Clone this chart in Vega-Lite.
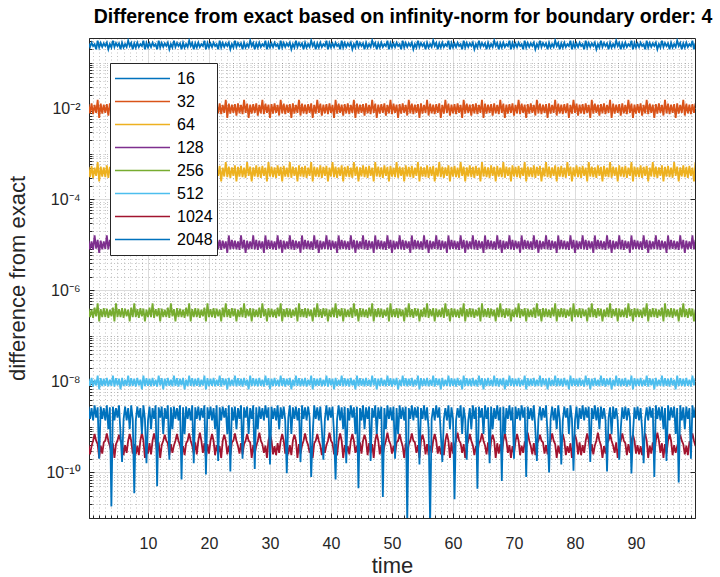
{
  "$schema": "https://vega.github.io/schema/vega-lite/v6.json",
  "width": 606,
  "height": 480,
  "autosize": {"type": "none"},
  "padding": {"left": 89, "top": 38, "right": 25, "bottom": 59},
  "background": "#ffffff",
  "title": {
    "text": "Difference from exact based on infinity-norm for boundary order: 4",
    "font": "Liberation Sans",
    "fontSize": 19.5,
    "fontWeight": "bold",
    "color": "#000000",
    "anchor": "middle",
    "dx": 11,
    "offset": 10
  },
  "config": {
    "view": {"stroke": "#262626", "strokeWidth": 1},
    "axis": {"labelFont": "Liberation Sans", "titleFont": "Liberation Sans"}
  },
  "datasets": {
    "err": [
{"t":0.25,"16":0.27,"32":125e-4,"64":52e-5,"128":125e-7,"256":4e-7,"512":115e-10,"1024":4e-10,"2048":28e-10},
{"t":0.5,"16":0.225,"32":78e-4,"64":31e-5,"128":8e-6,"256":26e-8,"512":8e-9,"1024":25e-11,"2048":15e-10},
{"t":0.75,"16":0.28,"32":13e-3,"64":55e-5,"128":12e-6,"256":38e-8,"512":12e-9,"1024":38e-11,"2048":26e-10},
{"t":1,"16":0.235,"32":75e-4,"64":3e-4,"128":78e-7,"256":25e-8,"512":77e-10,"1024":5e-10,"2048":14e-10},
{"t":1.25,"16":0.26,"32":12e-3,"64":5e-4,"128":162e-7,"256":42e-8,"512":11e-9,"1024":7e-10,"2048":3e-9},
{"t":1.5,"16":0.2,"32":8e-3,"64":33e-5,"128":83e-7,"256":27e-8,"512":82e-10,"1024":5e-10,"2048":16e-10},
{"t":1.75,"16":0.31,"32":155e-4,"64":66e-5,"128":13e-6,"256":52e-8,"512":135e-10,"1024":42e-11,"2048":27e-10},
{"t":2,"16":0.22,"32":62e-4,"64":25e-5,"128":67e-7,"256":21e-8,"512":67e-10,"1024":21e-11,"2048":2e-10},
{"t":2.25,"16":0.275,"32":128e-4,"64":53e-5,"128":125e-7,"256":39e-8,"512":118e-10,"1024":39e-11,"2048":28e-10},
{"t":2.5,"16":0.225,"32":77e-4,"64":32e-5,"128":8e-6,"256":26e-8,"512":79e-10,"1024":26e-11,"2048":15e-10},
{"t":2.75,"16":0.27,"32":122e-4,"64":51e-5,"128":12e-6,"256":41e-8,"512":115e-10,"1024":46e-11,"2048":26e-10},
{"t":3,"16":0.235,"32":8e-3,"64":31e-5,"128":82e-7,"256":26e-8,"512":8e-9,"1024":5e-10,"2048":14e-10},
{"t":3.25,"16":0.28,"32":125e-4,"64":56e-5,"128":162e-7,"256":4e-7,"512":12e-9,"1024":72e-11,"2048":3e-9},
{"t":3.5,"16":0.2,"32":7e-3,"64":3e-4,"128":8e-6,"256":25e-8,"512":78e-10,"1024":5e-10,"2048":9e-10},
{"t":3.75,"16":0.26,"32":13e-3,"64":52e-5,"128":13e-6,"256":38e-8,"512":11e-9,"1024":38e-11,"2048":27e-10},
{"t":4,"16":0.22,"32":78e-4,"64":33e-5,"128":78e-7,"256":27e-8,"512":8e-9,"1024":27e-11,"2048":18e-12},
{"t":4.25,"16":0.31,"32":12e-3,"64":55e-5,"128":125e-7,"256":42e-8,"512":135e-10,"1024":44e-11,"2048":28e-10},
{"t":4.5,"16":0.225,"32":75e-4,"64":25e-5,"128":83e-7,"256":21e-8,"512":77e-10,"1024":21e-11,"2048":14e-10},
{"t":4.75,"16":0.275,"32":155e-4,"64":5e-4,"128":12e-6,"256":52e-8,"512":118e-10,"1024":42e-11,"2048":26e-10},
{"t":5,"16":0.235,"32":8e-3,"64":32e-5,"128":67e-7,"256":26e-8,"512":82e-10,"1024":5e-10,"2048":16e-10},
{"t":5.25,"16":0.27,"32":128e-4,"64":66e-5,"128":162e-7,"256":39e-8,"512":115e-10,"1024":68e-11,"2048":3e-9},
{"t":5.5,"16":0.2,"32":62e-4,"64":31e-5,"128":8e-6,"256":26e-8,"512":67e-10,"1024":5e-10,"2048":7e-10},
{"t":5.75,"16":0.28,"32":122e-4,"64":53e-5,"128":13e-6,"256":41e-8,"512":12e-9,"1024":46e-11,"2048":17e-11},
{"t":6,"16":0.22,"32":77e-4,"64":3e-4,"128":82e-7,"256":25e-8,"512":79e-10,"1024":24e-11,"2048":15e-10},
{"t":6.25,"16":0.26,"32":125e-4,"64":51e-5,"128":125e-7,"256":4e-7,"512":11e-9,"1024":4e-10,"2048":28e-10},
{"t":6.5,"16":0.225,"32":8e-3,"64":33e-5,"128":8e-6,"256":27e-8,"512":8e-9,"1024":27e-11,"2048":14e-10},
{"t":6.75,"16":0.31,"32":13e-3,"64":56e-5,"128":12e-6,"256":38e-8,"512":135e-10,"1024":5e-10,"2048":26e-10},
{"t":7,"16":0.235,"32":7e-3,"64":25e-5,"128":78e-7,"256":21e-8,"512":78e-10,"1024":7e-10,"2048":9e-10},
{"t":7.25,"16":0.275,"32":12e-3,"64":52e-5,"128":162e-7,"256":42e-8,"512":118e-10,"1024":5e-10,"2048":3e-9},
{"t":7.5,"16":0.2,"32":78e-4,"64":32e-5,"128":83e-7,"256":26e-8,"512":8e-9,"1024":26e-11,"2048":15e-10},
{"t":7.75,"16":0.27,"32":155e-4,"64":55e-5,"128":13e-6,"256":52e-8,"512":115e-10,"1024":42e-11,"2048":35e-12},
{"t":8,"16":0.22,"32":75e-4,"64":31e-5,"128":67e-7,"256":26e-8,"512":77e-10,"1024":25e-11,"2048":14e-10},
{"t":8.25,"16":0.28,"32":128e-4,"64":5e-4,"128":125e-7,"256":39e-8,"512":12e-9,"1024":39e-11,"2048":28e-10},
{"t":8.5,"16":0.225,"32":8e-3,"64":3e-4,"128":8e-6,"256":25e-8,"512":82e-10,"1024":24e-11,"2048":16e-10},
{"t":8.75,"16":0.26,"32":122e-4,"64":66e-5,"128":12e-6,"256":41e-8,"512":11e-9,"1024":5e-10,"2048":26e-10},
{"t":9,"16":0.235,"32":62e-4,"64":33e-5,"128":82e-7,"256":27e-8,"512":67e-10,"1024":75e-11,"2048":7e-10},
{"t":9.25,"16":0.31,"32":125e-4,"64":53e-5,"128":162e-7,"256":4e-7,"512":135e-10,"1024":5e-10,"2048":3e-9},
{"t":9.5,"16":0.2,"32":77e-4,"64":25e-5,"128":8e-6,"256":21e-8,"512":79e-10,"1024":21e-11,"2048":15e-10},
{"t":9.75,"16":0.275,"32":13e-3,"64":51e-5,"128":13e-6,"256":38e-8,"512":118e-10,"1024":38e-11,"2048":16e-11},
{"t":10,"16":0.22,"32":8e-3,"64":32e-5,"128":78e-7,"256":26e-8,"512":8e-9,"1024":26e-11,"2048":14e-10},
{"t":10.25,"16":0.27,"32":12e-3,"64":56e-5,"128":125e-7,"256":42e-8,"512":115e-10,"1024":44e-11,"2048":28e-10},
{"t":10.5,"16":0.225,"32":7e-3,"64":31e-5,"128":83e-7,"256":26e-8,"512":78e-10,"1024":25e-11,"2048":9e-10},
{"t":10.75,"16":0.28,"32":155e-4,"64":52e-5,"128":12e-6,"256":52e-8,"512":12e-9,"1024":5e-10,"2048":26e-10},
{"t":11,"16":0.235,"32":78e-4,"64":3e-4,"128":67e-7,"256":25e-8,"512":8e-9,"1024":72e-11,"2048":15e-10},
{"t":11.25,"16":0.26,"32":128e-4,"64":55e-5,"128":162e-7,"256":39e-8,"512":11e-9,"1024":5e-10,"2048":3e-9},
{"t":11.5,"16":0.2,"32":75e-4,"64":33e-5,"128":8e-6,"256":27e-8,"512":77e-10,"1024":27e-11,"2048":5e-11},
{"t":11.75,"16":0.31,"32":122e-4,"64":5e-4,"128":13e-6,"256":41e-8,"512":135e-10,"1024":46e-11,"2048":27e-10},
{"t":12,"16":0.22,"32":8e-3,"64":25e-5,"128":82e-7,"256":21e-8,"512":82e-10,"1024":21e-11,"2048":16e-10},
{"t":12.25,"16":0.275,"32":125e-4,"64":66e-5,"128":125e-7,"256":4e-7,"512":118e-10,"1024":4e-10,"2048":28e-10},
{"t":12.5,"16":0.225,"32":62e-4,"64":32e-5,"128":8e-6,"256":26e-8,"512":67e-10,"1024":5e-10,"2048":7e-10},
{"t":12.75,"16":0.27,"32":13e-3,"64":53e-5,"128":12e-6,"256":38e-8,"512":115e-10,"1024":68e-11,"2048":26e-10},
{"t":13,"16":0.235,"32":77e-4,"64":31e-5,"128":78e-7,"256":26e-8,"512":79e-10,"1024":5e-10,"2048":15e-10},
{"t":13.25,"16":0.28,"32":12e-3,"64":51e-5,"128":162e-7,"256":42e-8,"512":12e-9,"1024":44e-11,"2048":3e-9},
{"t":13.5,"16":0.2,"32":8e-3,"64":3e-4,"128":83e-7,"256":25e-8,"512":8e-9,"1024":24e-11,"2048":19e-11},
{"t":13.75,"16":0.26,"32":155e-4,"64":56e-5,"128":13e-6,"256":52e-8,"512":11e-9,"1024":42e-11,"2048":27e-10},
{"t":14,"16":0.22,"32":7e-3,"64":33e-5,"128":67e-7,"256":27e-8,"512":78e-10,"1024":27e-11,"2048":9e-10},
{"t":14.25,"16":0.31,"32":128e-4,"64":52e-5,"128":125e-7,"256":39e-8,"512":135e-10,"1024":39e-11,"2048":28e-10},
{"t":14.5,"16":0.225,"32":78e-4,"64":25e-5,"128":8e-6,"256":21e-8,"512":8e-9,"1024":5e-10,"2048":15e-10},
{"t":14.75,"16":0.275,"32":122e-4,"64":55e-5,"128":12e-6,"256":41e-8,"512":118e-10,"1024":7e-10,"2048":26e-10},
{"t":15,"16":0.235,"32":75e-4,"64":32e-5,"128":82e-7,"256":26e-8,"512":77e-10,"1024":5e-10,"2048":14e-10},
{"t":15.25,"16":0.27,"32":125e-4,"64":5e-4,"128":162e-7,"256":4e-7,"512":115e-10,"1024":4e-10,"2048":3e-9},
{"t":15.5,"16":0.2,"32":8e-3,"64":31e-5,"128":8e-6,"256":26e-8,"512":82e-10,"1024":25e-11,"2048":7e-11},
{"t":15.75,"16":0.28,"32":13e-3,"64":66e-5,"128":13e-6,"256":38e-8,"512":12e-9,"1024":38e-11,"2048":27e-10},
{"t":16,"16":0.22,"32":62e-4,"64":3e-4,"128":78e-7,"256":25e-8,"512":67e-10,"1024":24e-11,"2048":7e-10},
{"t":16.25,"16":0.26,"32":12e-3,"64":53e-5,"128":125e-7,"256":42e-8,"512":11e-9,"1024":44e-11,"2048":28e-10},
{"t":16.5,"16":0.225,"32":77e-4,"64":33e-5,"128":83e-7,"256":27e-8,"512":79e-10,"1024":5e-10,"2048":15e-10},
{"t":16.75,"16":0.31,"32":155e-4,"64":51e-5,"128":12e-6,"256":52e-8,"512":135e-10,"1024":72e-11,"2048":26e-10},
{"t":17,"16":0.235,"32":8e-3,"64":25e-5,"128":67e-7,"256":21e-8,"512":8e-9,"1024":5e-10,"2048":14e-10},
{"t":17.25,"16":0.275,"32":128e-4,"64":56e-5,"128":162e-7,"256":39e-8,"512":118e-10,"1024":39e-11,"2048":3e-9},
{"t":17.5,"16":0.2,"32":7e-3,"64":32e-5,"128":8e-6,"256":26e-8,"512":78e-10,"1024":26e-11,"2048":16e-11},
{"t":17.75,"16":0.27,"32":122e-4,"64":52e-5,"128":13e-6,"256":41e-8,"512":115e-10,"1024":46e-11,"2048":27e-10},
{"t":18,"16":0.22,"32":78e-4,"64":31e-5,"128":82e-7,"256":26e-8,"512":8e-9,"1024":25e-11,"2048":15e-10},
{"t":18.25,"16":0.28,"32":125e-4,"64":55e-5,"128":125e-7,"256":4e-7,"512":12e-9,"1024":5e-10,"2048":28e-10},
{"t":18.5,"16":0.225,"32":75e-4,"64":3e-4,"128":8e-6,"256":25e-8,"512":77e-10,"1024":75e-11,"2048":14e-10},
{"t":18.75,"16":0.26,"32":13e-3,"64":5e-4,"128":12e-6,"256":38e-8,"512":11e-9,"1024":5e-10,"2048":26e-10},
{"t":19,"16":0.235,"32":8e-3,"64":33e-5,"128":78e-7,"256":27e-8,"512":82e-10,"1024":27e-11,"2048":16e-10},
{"t":19.25,"16":0.31,"32":12e-3,"64":66e-5,"128":162e-7,"256":42e-8,"512":135e-10,"1024":44e-11,"2048":3e-9},
{"t":19.5,"16":0.2,"32":62e-4,"64":25e-5,"128":83e-7,"256":21e-8,"512":67e-10,"1024":21e-11,"2048":9e-11},
{"t":19.75,"16":0.275,"32":155e-4,"64":53e-5,"128":13e-6,"256":52e-8,"512":118e-10,"1024":42e-11,"2048":27e-10},
{"t":20,"16":0.22,"32":77e-4,"64":32e-5,"128":67e-7,"256":26e-8,"512":79e-10,"1024":26e-11,"2048":15e-10},
{"t":20.25,"16":0.27,"32":128e-4,"64":51e-5,"128":125e-7,"256":39e-8,"512":115e-10,"1024":5e-10,"2048":28e-10},
{"t":20.5,"16":0.225,"32":8e-3,"64":31e-5,"128":8e-6,"256":26e-8,"512":8e-9,"1024":7e-10,"2048":14e-10},
{"t":20.75,"16":0.28,"32":122e-4,"64":56e-5,"128":12e-6,"256":41e-8,"512":12e-9,"1024":5e-10,"2048":26e-10},
{"t":21,"16":0.235,"32":7e-3,"64":3e-4,"128":82e-7,"256":25e-8,"512":78e-10,"1024":24e-11,"2048":9e-10},
{"t":21.25,"16":0.26,"32":125e-4,"64":52e-5,"128":162e-7,"256":4e-7,"512":11e-9,"1024":4e-10,"2048":3e-9},
{"t":21.5,"16":0.2,"32":78e-4,"64":33e-5,"128":8e-6,"256":27e-8,"512":8e-9,"1024":27e-11,"2048":18e-11},
{"t":21.75,"16":0.31,"32":13e-3,"64":55e-5,"128":13e-6,"256":38e-8,"512":135e-10,"1024":38e-11,"2048":27e-10},
{"t":22,"16":0.22,"32":75e-4,"64":25e-5,"128":78e-7,"256":21e-8,"512":77e-10,"1024":21e-11,"2048":14e-10},
{"t":22.25,"16":0.275,"32":12e-3,"64":5e-4,"128":125e-7,"256":42e-8,"512":118e-10,"1024":5e-10,"2048":28e-10},
{"t":22.5,"16":0.225,"32":8e-3,"64":32e-5,"128":83e-7,"256":26e-8,"512":82e-10,"1024":68e-11,"2048":16e-10},
{"t":22.75,"16":0.27,"32":155e-4,"64":66e-5,"128":12e-6,"256":52e-8,"512":115e-10,"1024":5e-10,"2048":26e-10},
{"t":23,"16":0.235,"32":62e-4,"64":31e-5,"128":67e-7,"256":26e-8,"512":67e-10,"1024":25e-11,"2048":7e-10},
{"t":23.25,"16":0.28,"32":128e-4,"64":53e-5,"128":162e-7,"256":39e-8,"512":12e-9,"1024":39e-11,"2048":3e-9},
{"t":23.5,"16":0.2,"32":77e-4,"64":3e-4,"128":8e-6,"256":25e-8,"512":79e-10,"1024":24e-11,"2048":105e-12},
{"t":23.75,"16":0.26,"32":122e-4,"64":51e-5,"128":13e-6,"256":41e-8,"512":11e-9,"1024":46e-11,"2048":27e-10},
{"t":24,"16":0.22,"32":8e-3,"64":33e-5,"128":82e-7,"256":27e-8,"512":8e-9,"1024":5e-10,"2048":14e-10},
{"t":24.25,"16":0.31,"32":125e-4,"64":56e-5,"128":125e-7,"256":4e-7,"512":135e-10,"1024":72e-11,"2048":28e-10},
{"t":24.5,"16":0.225,"32":7e-3,"64":25e-5,"128":8e-6,"256":21e-8,"512":78e-10,"1024":5e-10,"2048":9e-10},
{"t":24.75,"16":0.275,"32":13e-3,"64":52e-5,"128":12e-6,"256":38e-8,"512":118e-10,"1024":38e-11,"2048":26e-10},
{"t":25,"16":0.235,"32":78e-4,"64":32e-5,"128":78e-7,"256":26e-8,"512":8e-9,"1024":26e-11,"2048":15e-10},
{"t":25.25,"16":0.27,"32":12e-3,"64":55e-5,"128":162e-7,"256":42e-8,"512":115e-10,"1024":44e-11,"2048":3e-9},
{"t":25.5,"16":0.2,"32":75e-4,"64":31e-5,"128":83e-7,"256":26e-8,"512":77e-10,"1024":25e-11,"2048":2e-10},
{"t":25.75,"16":0.28,"32":155e-4,"64":5e-4,"128":13e-6,"256":52e-8,"512":12e-9,"1024":42e-11,"2048":27e-10},
{"t":26,"16":0.22,"32":8e-3,"64":3e-4,"128":67e-7,"256":25e-8,"512":82e-10,"1024":5e-10,"2048":16e-10},
{"t":26.25,"16":0.26,"32":128e-4,"64":66e-5,"128":125e-7,"256":39e-8,"512":11e-9,"1024":7e-10,"2048":28e-10},
{"t":26.5,"16":0.225,"32":62e-4,"64":33e-5,"128":8e-6,"256":27e-8,"512":67e-10,"1024":5e-10,"2048":7e-10},
{"t":26.75,"16":0.31,"32":122e-4,"64":53e-5,"128":12e-6,"256":41e-8,"512":135e-10,"1024":46e-11,"2048":26e-10},
{"t":27,"16":0.235,"32":77e-4,"64":25e-5,"128":82e-7,"256":21e-8,"512":79e-10,"1024":21e-11,"2048":15e-10},
{"t":27.25,"16":0.275,"32":125e-4,"64":51e-5,"128":162e-7,"256":4e-7,"512":118e-10,"1024":4e-10,"2048":3e-9},
{"t":27.5,"16":0.2,"32":8e-3,"64":32e-5,"128":8e-6,"256":26e-8,"512":8e-9,"1024":26e-11,"2048":12e-11},
{"t":27.75,"16":0.27,"32":13e-3,"64":56e-5,"128":13e-6,"256":38e-8,"512":115e-10,"1024":38e-11,"2048":27e-10},
{"t":28,"16":0.22,"32":7e-3,"64":31e-5,"128":78e-7,"256":26e-8,"512":78e-10,"1024":5e-10,"2048":9e-10},
{"t":28.25,"16":0.28,"32":12e-3,"64":52e-5,"128":125e-7,"256":42e-8,"512":12e-9,"1024":75e-11,"2048":28e-10},
{"t":28.5,"16":0.225,"32":78e-4,"64":3e-4,"128":83e-7,"256":25e-8,"512":8e-9,"1024":5e-10,"2048":15e-10},
{"t":28.75,"16":0.26,"32":155e-4,"64":55e-5,"128":12e-6,"256":52e-8,"512":11e-9,"1024":42e-11,"2048":26e-10},
{"t":29,"16":0.235,"32":75e-4,"64":33e-5,"128":67e-7,"256":27e-8,"512":77e-10,"1024":27e-11,"2048":14e-10},
{"t":29.25,"16":0.31,"32":128e-4,"64":5e-4,"128":162e-7,"256":39e-8,"512":135e-10,"1024":39e-11,"2048":3e-9},
{"t":29.5,"16":0.2,"32":8e-3,"64":25e-5,"128":8e-6,"256":21e-8,"512":82e-10,"1024":21e-11,"2048":16e-10},
{"t":29.75,"16":0.275,"32":122e-4,"64":66e-5,"128":13e-6,"256":41e-8,"512":118e-10,"1024":5e-10,"2048":27e-10},
{"t":30,"16":0.22,"32":62e-4,"64":32e-5,"128":82e-7,"256":26e-8,"512":67e-10,"1024":72e-11,"2048":15e-11},
{"t":30.25,"16":0.27,"32":125e-4,"64":53e-5,"128":125e-7,"256":4e-7,"512":115e-10,"1024":5e-10,"2048":28e-10},
{"t":30.5,"16":0.225,"32":77e-4,"64":31e-5,"128":8e-6,"256":26e-8,"512":79e-10,"1024":25e-11,"2048":15e-10},
{"t":30.75,"16":0.28,"32":13e-3,"64":51e-5,"128":12e-6,"256":38e-8,"512":12e-9,"1024":38e-11,"2048":26e-10},
{"t":31,"16":0.235,"32":8e-3,"64":3e-4,"128":78e-7,"256":25e-8,"512":8e-9,"1024":24e-11,"2048":14e-10},
{"t":31.25,"16":0.26,"32":12e-3,"64":56e-5,"128":162e-7,"256":42e-8,"512":11e-9,"1024":44e-11,"2048":3e-9},
{"t":31.5,"16":0.2,"32":7e-3,"64":33e-5,"128":83e-7,"256":27e-8,"512":78e-10,"1024":27e-11,"2048":9e-10},
{"t":31.75,"16":0.31,"32":155e-4,"64":52e-5,"128":13e-6,"256":52e-8,"512":135e-10,"1024":5e-10,"2048":27e-10},
{"t":32,"16":0.22,"32":78e-4,"64":25e-5,"128":67e-7,"256":21e-8,"512":8e-9,"1024":7e-10,"2048":15e-10},
{"t":32.25,"16":0.275,"32":128e-4,"64":55e-5,"128":125e-7,"256":39e-8,"512":118e-10,"1024":5e-10,"2048":28e-10},
{"t":32.5,"16":0.225,"32":75e-4,"64":32e-5,"128":8e-6,"256":26e-8,"512":77e-10,"1024":26e-11,"2048":14e-10},
{"t":32.75,"16":0.27,"32":122e-4,"64":5e-4,"128":12e-6,"256":41e-8,"512":115e-10,"1024":46e-11,"2048":96e-12},
{"t":33,"16":0.235,"32":8e-3,"64":31e-5,"128":82e-7,"256":26e-8,"512":82e-10,"1024":25e-11,"2048":16e-10},
{"t":33.25,"16":0.28,"32":125e-4,"64":66e-5,"128":162e-7,"256":4e-7,"512":12e-9,"1024":4e-10,"2048":3e-9},
{"t":33.5,"16":0.2,"32":62e-4,"64":3e-4,"128":8e-6,"256":25e-8,"512":67e-10,"1024":24e-11,"2048":7e-10},
{"t":33.75,"16":0.26,"32":13e-3,"64":53e-5,"128":13e-6,"256":38e-8,"512":11e-9,"1024":5e-10,"2048":27e-10},
{"t":34,"16":0.22,"32":77e-4,"64":33e-5,"128":78e-7,"256":27e-8,"512":79e-10,"1024":68e-11,"2048":15e-10},
{"t":34.25,"16":0.31,"32":12e-3,"64":51e-5,"128":125e-7,"256":42e-8,"512":135e-10,"1024":5e-10,"2048":28e-10},
{"t":34.5,"16":0.225,"32":8e-3,"64":25e-5,"128":83e-7,"256":21e-8,"512":8e-9,"1024":21e-11,"2048":14e-10},
{"t":34.75,"16":0.275,"32":155e-4,"64":56e-5,"128":12e-6,"256":52e-8,"512":118e-10,"1024":42e-11,"2048":26e-10},
{"t":35,"16":0.235,"32":7e-3,"64":32e-5,"128":67e-7,"256":26e-8,"512":78e-10,"1024":26e-11,"2048":17e-11},
{"t":35.25,"16":0.27,"32":128e-4,"64":52e-5,"128":162e-7,"256":39e-8,"512":115e-10,"1024":39e-11,"2048":3e-9},
{"t":35.5,"16":0.2,"32":78e-4,"64":31e-5,"128":8e-6,"256":26e-8,"512":8e-9,"1024":5e-10,"2048":15e-10},
{"t":35.75,"16":0.28,"32":122e-4,"64":55e-5,"128":13e-6,"256":41e-8,"512":12e-9,"1024":72e-11,"2048":27e-10},
{"t":36,"16":0.22,"32":75e-4,"64":3e-4,"128":82e-7,"256":25e-8,"512":77e-10,"1024":5e-10,"2048":14e-10},
{"t":36.25,"16":0.26,"32":125e-4,"64":5e-4,"128":125e-7,"256":4e-7,"512":11e-9,"1024":4e-10,"2048":28e-10},
{"t":36.5,"16":0.225,"32":8e-3,"64":33e-5,"128":8e-6,"256":27e-8,"512":82e-10,"1024":27e-11,"2048":16e-10},
{"t":36.75,"16":0.31,"32":13e-3,"64":66e-5,"128":12e-6,"256":38e-8,"512":135e-10,"1024":38e-11,"2048":8e-11},
{"t":37,"16":0.235,"32":62e-4,"64":25e-5,"128":78e-7,"256":21e-8,"512":67e-10,"1024":21e-11,"2048":7e-10},
{"t":37.25,"16":0.275,"32":12e-3,"64":53e-5,"128":162e-7,"256":42e-8,"512":118e-10,"1024":44e-11,"2048":3e-9},
{"t":37.5,"16":0.2,"32":77e-4,"64":32e-5,"128":83e-7,"256":26e-8,"512":79e-10,"1024":5e-10,"2048":15e-10},
{"t":37.75,"16":0.27,"32":155e-4,"64":51e-5,"128":13e-6,"256":52e-8,"512":115e-10,"1024":7e-10,"2048":27e-10},
{"t":38,"16":0.22,"32":8e-3,"64":31e-5,"128":67e-7,"256":26e-8,"512":8e-9,"1024":5e-10,"2048":14e-10},
{"t":38.25,"16":0.28,"32":128e-4,"64":56e-5,"128":125e-7,"256":39e-8,"512":12e-9,"1024":39e-11,"2048":28e-10},
{"t":38.5,"16":0.225,"32":7e-3,"64":3e-4,"128":8e-6,"256":25e-8,"512":78e-10,"1024":24e-11,"2048":9e-10},
{"t":38.75,"16":0.26,"32":122e-4,"64":52e-5,"128":12e-6,"256":41e-8,"512":11e-9,"1024":46e-11,"2048":19e-11},
{"t":39,"16":0.235,"32":78e-4,"64":33e-5,"128":82e-7,"256":27e-8,"512":8e-9,"1024":27e-11,"2048":15e-10},
{"t":39.25,"16":0.31,"32":125e-4,"64":55e-5,"128":162e-7,"256":4e-7,"512":135e-10,"1024":4e-10,"2048":3e-9},
{"t":39.5,"16":0.2,"32":75e-4,"64":25e-5,"128":8e-6,"256":21e-8,"512":77e-10,"1024":5e-10,"2048":14e-10},
{"t":39.75,"16":0.275,"32":13e-3,"64":5e-4,"128":13e-6,"256":38e-8,"512":118e-10,"1024":75e-11,"2048":27e-10},
{"t":40,"16":0.22,"32":8e-3,"64":32e-5,"128":78e-7,"256":26e-8,"512":82e-10,"1024":5e-10,"2048":16e-10},
{"t":40.25,"16":0.27,"32":12e-3,"64":66e-5,"128":125e-7,"256":42e-8,"512":115e-10,"1024":44e-11,"2048":28e-10},
{"t":40.5,"16":0.225,"32":62e-4,"64":31e-5,"128":83e-7,"256":26e-8,"512":67e-10,"1024":25e-11,"2048":7e-10},
{"t":40.75,"16":0.28,"32":155e-4,"64":53e-5,"128":12e-6,"256":52e-8,"512":12e-9,"1024":42e-11,"2048":7e-11},
{"t":41,"16":0.235,"32":77e-4,"64":3e-4,"128":67e-7,"256":25e-8,"512":79e-10,"1024":24e-11,"2048":15e-10},
{"t":41.25,"16":0.26,"32":128e-4,"64":51e-5,"128":162e-7,"256":39e-8,"512":11e-9,"1024":5e-10,"2048":3e-9},
{"t":41.5,"16":0.2,"32":8e-3,"64":33e-5,"128":8e-6,"256":27e-8,"512":8e-9,"1024":72e-11,"2048":14e-10},
{"t":41.75,"16":0.31,"32":122e-4,"64":56e-5,"128":13e-6,"256":41e-8,"512":135e-10,"1024":5e-10,"2048":27e-10},
{"t":42,"16":0.22,"32":7e-3,"64":25e-5,"128":82e-7,"256":21e-8,"512":78e-10,"1024":21e-11,"2048":9e-10},
{"t":42.25,"16":0.275,"32":125e-4,"64":52e-5,"128":125e-7,"256":4e-7,"512":118e-10,"1024":4e-10,"2048":28e-10},
{"t":42.5,"16":0.225,"32":78e-4,"64":32e-5,"128":8e-6,"256":26e-8,"512":8e-9,"1024":26e-11,"2048":16e-11},
{"t":42.75,"16":0.27,"32":13e-3,"64":55e-5,"128":12e-6,"256":38e-8,"512":115e-10,"1024":38e-11,"2048":26e-10},
{"t":43,"16":0.235,"32":75e-4,"64":31e-5,"128":78e-7,"256":26e-8,"512":77e-10,"1024":25e-11,"2048":14e-10},
{"t":43.25,"16":0.28,"32":12e-3,"64":5e-4,"128":162e-7,"256":42e-8,"512":12e-9,"1024":5e-10,"2048":3e-9},
{"t":43.5,"16":0.2,"32":8e-3,"64":3e-4,"128":83e-7,"256":25e-8,"512":82e-10,"1024":7e-10,"2048":16e-10},
{"t":43.75,"16":0.26,"32":155e-4,"64":66e-5,"128":13e-6,"256":52e-8,"512":11e-9,"1024":5e-10,"2048":27e-10},
{"t":44,"16":0.22,"32":62e-4,"64":33e-5,"128":67e-7,"256":27e-8,"512":67e-10,"1024":27e-11,"2048":7e-10},
{"t":44.25,"16":0.31,"32":128e-4,"64":53e-5,"128":125e-7,"256":39e-8,"512":135e-10,"1024":39e-11,"2048":28e-10},
{"t":44.5,"16":0.225,"32":77e-4,"64":25e-5,"128":8e-6,"256":21e-8,"512":79e-10,"1024":21e-11,"2048":45e-12},
{"t":44.75,"16":0.275,"32":122e-4,"64":51e-5,"128":12e-6,"256":41e-8,"512":118e-10,"1024":46e-11,"2048":26e-10},
{"t":45,"16":0.235,"32":8e-3,"64":32e-5,"128":82e-7,"256":26e-8,"512":8e-9,"1024":26e-11,"2048":14e-10},
{"t":45.25,"16":0.27,"32":125e-4,"64":56e-5,"128":162e-7,"256":4e-7,"512":115e-10,"1024":5e-10,"2048":3e-9},
{"t":45.5,"16":0.2,"32":7e-3,"64":31e-5,"128":8e-6,"256":26e-8,"512":78e-10,"1024":68e-11,"2048":9e-10},
{"t":45.75,"16":0.28,"32":13e-3,"64":52e-5,"128":13e-6,"256":38e-8,"512":12e-9,"1024":5e-10,"2048":27e-10},
{"t":46,"16":0.22,"32":78e-4,"64":3e-4,"128":78e-7,"256":25e-8,"512":8e-9,"1024":24e-11,"2048":15e-10},
{"t":46.25,"16":0.26,"32":12e-3,"64":55e-5,"128":125e-7,"256":42e-8,"512":11e-9,"1024":44e-11,"2048":28e-10},
{"t":46.5,"16":0.225,"32":75e-4,"64":33e-5,"128":83e-7,"256":27e-8,"512":77e-10,"1024":27e-11,"2048":18e-11},
{"t":46.75,"16":0.31,"32":155e-4,"64":5e-4,"128":12e-6,"256":52e-8,"512":135e-10,"1024":42e-11,"2048":26e-10},
{"t":47,"16":0.235,"32":8e-3,"64":25e-5,"128":67e-7,"256":21e-8,"512":82e-10,"1024":21e-11,"2048":16e-10},
{"t":47.25,"16":0.275,"32":128e-4,"64":66e-5,"128":162e-7,"256":39e-8,"512":118e-10,"1024":5e-10,"2048":3e-9},
{"t":47.5,"16":0.2,"32":62e-4,"64":32e-5,"128":8e-6,"256":26e-8,"512":67e-10,"1024":72e-11,"2048":7e-10},
{"t":47.75,"16":0.27,"32":122e-4,"64":53e-5,"128":13e-6,"256":41e-8,"512":115e-10,"1024":5e-10,"2048":27e-10},
{"t":48,"16":0.22,"32":77e-4,"64":31e-5,"128":82e-7,"256":26e-8,"512":79e-10,"1024":25e-11,"2048":15e-10},
{"t":48.25,"16":0.28,"32":125e-4,"64":51e-5,"128":125e-7,"256":4e-7,"512":12e-9,"1024":4e-10,"2048":28e-10},
{"t":48.5,"16":0.225,"32":8e-3,"64":3e-4,"128":8e-6,"256":25e-8,"512":8e-9,"1024":24e-11,"2048":29e-12},
{"t":48.75,"16":0.26,"32":13e-3,"64":56e-5,"128":12e-6,"256":38e-8,"512":11e-9,"1024":38e-11,"2048":26e-10},
{"t":49,"16":0.235,"32":7e-3,"64":33e-5,"128":78e-7,"256":27e-8,"512":78e-10,"1024":5e-10,"2048":9e-10},
{"t":49.25,"16":0.31,"32":12e-3,"64":52e-5,"128":162e-7,"256":42e-8,"512":135e-10,"1024":75e-11,"2048":3e-9},
{"t":49.5,"16":0.2,"32":78e-4,"64":25e-5,"128":83e-7,"256":21e-8,"512":8e-9,"1024":5e-10,"2048":15e-10},
{"t":49.75,"16":0.275,"32":155e-4,"64":55e-5,"128":13e-6,"256":52e-8,"512":118e-10,"1024":42e-11,"2048":27e-10},
{"t":50,"16":0.22,"32":75e-4,"64":32e-5,"128":67e-7,"256":26e-8,"512":77e-10,"1024":26e-11,"2048":14e-10},
{"t":50.25,"16":0.27,"32":128e-4,"64":5e-4,"128":125e-7,"256":39e-8,"512":115e-10,"1024":39e-11,"2048":28e-10},
{"t":50.5,"16":0.225,"32":8e-3,"64":31e-5,"128":8e-6,"256":26e-8,"512":82e-10,"1024":25e-11,"2048":2e-10},
{"t":50.75,"16":0.28,"32":122e-4,"64":66e-5,"128":12e-6,"256":41e-8,"512":12e-9,"1024":46e-11,"2048":26e-10},
{"t":51,"16":0.235,"32":62e-4,"64":3e-4,"128":82e-7,"256":25e-8,"512":67e-10,"1024":5e-10,"2048":7e-10},
{"t":51.25,"16":0.26,"32":125e-4,"64":53e-5,"128":162e-7,"256":4e-7,"512":11e-9,"1024":7e-10,"2048":3e-9},
{"t":51.5,"16":0.2,"32":77e-4,"64":33e-5,"128":8e-6,"256":27e-8,"512":79e-10,"1024":5e-10,"2048":15e-10},
{"t":51.75,"16":0.31,"32":13e-3,"64":51e-5,"128":13e-6,"256":38e-8,"512":135e-10,"1024":38e-11,"2048":27e-10},
{"t":52,"16":0.22,"32":8e-3,"64":25e-5,"128":78e-7,"256":21e-8,"512":8e-9,"1024":21e-11,"2048":14e-10},
{"t":52.25,"16":0.275,"32":12e-3,"64":56e-5,"128":125e-7,"256":42e-8,"512":118e-10,"1024":44e-11,"2048":28e-10},
{"t":52.5,"16":0.225,"32":7e-3,"64":32e-5,"128":83e-7,"256":26e-8,"512":78e-10,"1024":26e-11,"2048":8e-12},
{"t":52.75,"16":0.27,"32":155e-4,"64":52e-5,"128":12e-6,"256":52e-8,"512":115e-10,"1024":42e-11,"2048":26e-10},
{"t":53,"16":0.235,"32":78e-4,"64":31e-5,"128":67e-7,"256":26e-8,"512":8e-9,"1024":5e-10,"2048":15e-10},
{"t":53.25,"16":0.28,"32":128e-4,"64":55e-5,"128":162e-7,"256":39e-8,"512":12e-9,"1024":72e-11,"2048":3e-9},
{"t":53.5,"16":0.2,"32":75e-4,"64":3e-4,"128":8e-6,"256":25e-8,"512":77e-10,"1024":5e-10,"2048":14e-10},
{"t":53.75,"16":0.26,"32":122e-4,"64":5e-4,"128":13e-6,"256":41e-8,"512":11e-9,"1024":46e-11,"2048":27e-10},
{"t":54,"16":0.22,"32":8e-3,"64":33e-5,"128":82e-7,"256":27e-8,"512":82e-10,"1024":27e-11,"2048":16e-10},
{"t":54.25,"16":0.31,"32":125e-4,"64":66e-5,"128":125e-7,"256":4e-7,"512":135e-10,"1024":4e-10,"2048":28e-10},
{"t":54.5,"16":0.225,"32":62e-4,"64":25e-5,"128":8e-6,"256":21e-8,"512":67e-10,"1024":21e-11,"2048":15e-11},
{"t":54.75,"16":0.275,"32":13e-3,"64":53e-5,"128":12e-6,"256":38e-8,"512":118e-10,"1024":5e-10,"2048":26e-10},
{"t":55,"16":0.235,"32":77e-4,"64":32e-5,"128":78e-7,"256":26e-8,"512":79e-10,"1024":68e-11,"2048":15e-10},
{"t":55.25,"16":0.27,"32":12e-3,"64":51e-5,"128":162e-7,"256":42e-8,"512":115e-10,"1024":5e-10,"2048":3e-9},
{"t":55.5,"16":0.2,"32":8e-3,"64":31e-5,"128":83e-7,"256":26e-8,"512":8e-9,"1024":25e-11,"2048":14e-10},
{"t":55.75,"16":0.28,"32":155e-4,"64":56e-5,"128":13e-6,"256":52e-8,"512":12e-9,"1024":42e-11,"2048":27e-10},
{"t":56,"16":0.22,"32":7e-3,"64":3e-4,"128":67e-7,"256":25e-8,"512":78e-10,"1024":24e-11,"2048":9e-10},
{"t":56.25,"16":0.26,"32":128e-4,"64":52e-5,"128":125e-7,"256":39e-8,"512":11e-9,"1024":39e-11,"2048":8e-12},
{"t":56.5,"16":0.225,"32":78e-4,"64":33e-5,"128":8e-6,"256":27e-8,"512":8e-9,"1024":27e-11,"2048":15e-10},
{"t":56.75,"16":0.31,"32":122e-4,"64":55e-5,"128":12e-6,"256":41e-8,"512":135e-10,"1024":5e-10,"2048":26e-10},
{"t":57,"16":0.235,"32":75e-4,"64":25e-5,"128":82e-7,"256":21e-8,"512":77e-10,"1024":7e-10,"2048":14e-10},
{"t":57.25,"16":0.275,"32":125e-4,"64":5e-4,"128":162e-7,"256":4e-7,"512":118e-10,"1024":5e-10,"2048":3e-9},
{"t":57.5,"16":0.2,"32":8e-3,"64":32e-5,"128":8e-6,"256":26e-8,"512":82e-10,"1024":26e-11,"2048":16e-10},
{"t":57.75,"16":0.27,"32":13e-3,"64":66e-5,"128":13e-6,"256":38e-8,"512":115e-10,"1024":38e-11,"2048":27e-10},
{"t":58,"16":0.22,"32":62e-4,"64":31e-5,"128":78e-7,"256":26e-8,"512":67e-10,"1024":25e-11,"2048":7e-10},
{"t":58.25,"16":0.28,"32":12e-3,"64":53e-5,"128":125e-7,"256":42e-8,"512":12e-9,"1024":44e-11,"2048":17e-11},
{"t":58.5,"16":0.225,"32":77e-4,"64":3e-4,"128":83e-7,"256":25e-8,"512":79e-10,"1024":24e-11,"2048":15e-10},
{"t":58.75,"16":0.26,"32":155e-4,"64":51e-5,"128":12e-6,"256":52e-8,"512":11e-9,"1024":5e-10,"2048":26e-10},
{"t":59,"16":0.235,"32":8e-3,"64":33e-5,"128":67e-7,"256":27e-8,"512":8e-9,"1024":72e-11,"2048":14e-10},
{"t":59.25,"16":0.31,"32":128e-4,"64":56e-5,"128":162e-7,"256":39e-8,"512":135e-10,"1024":5e-10,"2048":3e-9},
{"t":59.5,"16":0.2,"32":7e-3,"64":25e-5,"128":8e-6,"256":21e-8,"512":78e-10,"1024":21e-11,"2048":9e-10},
{"t":59.75,"16":0.275,"32":122e-4,"64":52e-5,"128":13e-6,"256":41e-8,"512":118e-10,"1024":46e-11,"2048":27e-10},
{"t":60,"16":0.22,"32":78e-4,"64":32e-5,"128":82e-7,"256":26e-8,"512":8e-9,"1024":26e-11,"2048":15e-10},
{"t":60.25,"16":0.27,"32":125e-4,"64":55e-5,"128":125e-7,"256":4e-7,"512":115e-10,"1024":4e-10,"2048":26e-12},
{"t":60.5,"16":0.225,"32":75e-4,"64":31e-5,"128":8e-6,"256":26e-8,"512":77e-10,"1024":5e-10,"2048":14e-10},
{"t":60.75,"16":0.28,"32":13e-3,"64":5e-4,"128":12e-6,"256":38e-8,"512":12e-9,"1024":75e-11,"2048":26e-10},
{"t":61,"16":0.235,"32":8e-3,"64":3e-4,"128":78e-7,"256":25e-8,"512":82e-10,"1024":5e-10,"2048":16e-10},
{"t":61.25,"16":0.26,"32":12e-3,"64":66e-5,"128":162e-7,"256":42e-8,"512":11e-9,"1024":44e-11,"2048":3e-9},
{"t":61.5,"16":0.2,"32":62e-4,"64":33e-5,"128":83e-7,"256":27e-8,"512":67e-10,"1024":27e-11,"2048":7e-10},
{"t":61.75,"16":0.31,"32":155e-4,"64":53e-5,"128":13e-6,"256":52e-8,"512":135e-10,"1024":42e-11,"2048":27e-10},
{"t":62,"16":0.22,"32":77e-4,"64":25e-5,"128":67e-7,"256":21e-8,"512":79e-10,"1024":21e-11,"2048":15e-10},
{"t":62.25,"16":0.275,"32":128e-4,"64":51e-5,"128":125e-7,"256":39e-8,"512":118e-10,"1024":39e-11,"2048":19e-11},
{"t":62.5,"16":0.225,"32":8e-3,"64":32e-5,"128":8e-6,"256":26e-8,"512":8e-9,"1024":5e-10,"2048":14e-10},
{"t":62.75,"16":0.27,"32":122e-4,"64":56e-5,"128":12e-6,"256":41e-8,"512":115e-10,"1024":7e-10,"2048":26e-10},
{"t":63,"16":0.235,"32":7e-3,"64":31e-5,"128":82e-7,"256":26e-8,"512":78e-10,"1024":5e-10,"2048":9e-10},
{"t":63.25,"16":0.28,"32":125e-4,"64":52e-5,"128":162e-7,"256":4e-7,"512":12e-9,"1024":4e-10,"2048":3e-9},
{"t":63.5,"16":0.2,"32":78e-4,"64":3e-4,"128":8e-6,"256":25e-8,"512":8e-9,"1024":24e-11,"2048":15e-10},
{"t":63.75,"16":0.26,"32":13e-3,"64":55e-5,"128":13e-6,"256":38e-8,"512":11e-9,"1024":38e-11,"2048":27e-10},
{"t":64,"16":0.22,"32":75e-4,"64":33e-5,"128":78e-7,"256":27e-8,"512":77e-10,"1024":27e-11,"2048":44e-12},
{"t":64.25,"16":0.31,"32":12e-3,"64":5e-4,"128":125e-7,"256":42e-8,"512":135e-10,"1024":44e-11,"2048":28e-10},
{"t":64.5,"16":0.225,"32":8e-3,"64":25e-5,"128":83e-7,"256":21e-8,"512":82e-10,"1024":5e-10,"2048":16e-10},
{"t":64.75,"16":0.275,"32":155e-4,"64":66e-5,"128":12e-6,"256":52e-8,"512":118e-10,"1024":72e-11,"2048":26e-10},
{"t":65,"16":0.235,"32":62e-4,"64":32e-5,"128":67e-7,"256":26e-8,"512":67e-10,"1024":5e-10,"2048":7e-10},
{"t":65.25,"16":0.27,"32":128e-4,"64":53e-5,"128":162e-7,"256":39e-8,"512":115e-10,"1024":39e-11,"2048":3e-9},
{"t":65.5,"16":0.2,"32":77e-4,"64":31e-5,"128":8e-6,"256":26e-8,"512":79e-10,"1024":25e-11,"2048":15e-10},
{"t":65.75,"16":0.28,"32":122e-4,"64":51e-5,"128":13e-6,"256":41e-8,"512":12e-9,"1024":46e-11,"2048":27e-10},
{"t":66,"16":0.22,"32":8e-3,"64":3e-4,"128":82e-7,"256":25e-8,"512":8e-9,"1024":24e-11,"2048":16e-11},
{"t":66.25,"16":0.26,"32":125e-4,"64":56e-5,"128":125e-7,"256":4e-7,"512":11e-9,"1024":5e-10,"2048":28e-10},
{"t":66.5,"16":0.225,"32":7e-3,"64":33e-5,"128":8e-6,"256":27e-8,"512":78e-10,"1024":68e-11,"2048":9e-10},
{"t":66.75,"16":0.31,"32":13e-3,"64":52e-5,"128":12e-6,"256":38e-8,"512":135e-10,"1024":5e-10,"2048":26e-10},
{"t":67,"16":0.235,"32":78e-4,"64":25e-5,"128":78e-7,"256":21e-8,"512":8e-9,"1024":21e-11,"2048":15e-10},
{"t":67.25,"16":0.275,"32":12e-3,"64":55e-5,"128":162e-7,"256":42e-8,"512":118e-10,"1024":44e-11,"2048":3e-9},
{"t":67.5,"16":0.2,"32":75e-4,"64":32e-5,"128":83e-7,"256":26e-8,"512":77e-10,"1024":26e-11,"2048":14e-10},
{"t":67.75,"16":0.27,"32":155e-4,"64":5e-4,"128":13e-6,"256":52e-8,"512":115e-10,"1024":42e-11,"2048":27e-10},
{"t":68,"16":0.22,"32":8e-3,"64":31e-5,"128":67e-7,"256":26e-8,"512":82e-10,"1024":25e-11,"2048":65e-12},
{"t":68.25,"16":0.28,"32":128e-4,"64":66e-5,"128":125e-7,"256":39e-8,"512":12e-9,"1024":5e-10,"2048":28e-10},
{"t":68.5,"16":0.225,"32":62e-4,"64":3e-4,"128":8e-6,"256":25e-8,"512":67e-10,"1024":72e-11,"2048":7e-10},
{"t":68.75,"16":0.26,"32":122e-4,"64":53e-5,"128":12e-6,"256":41e-8,"512":11e-9,"1024":5e-10,"2048":26e-10},
{"t":69,"16":0.235,"32":77e-4,"64":33e-5,"128":82e-7,"256":27e-8,"512":79e-10,"1024":27e-11,"2048":15e-10},
{"t":69.25,"16":0.31,"32":125e-4,"64":51e-5,"128":162e-7,"256":4e-7,"512":135e-10,"1024":4e-10,"2048":3e-9},
{"t":69.5,"16":0.2,"32":8e-3,"64":25e-5,"128":8e-6,"256":21e-8,"512":8e-9,"1024":21e-11,"2048":14e-10},
{"t":69.75,"16":0.275,"32":13e-3,"64":56e-5,"128":13e-6,"256":38e-8,"512":118e-10,"1024":38e-11,"2048":27e-10},
{"t":70,"16":0.22,"32":7e-3,"64":32e-5,"128":78e-7,"256":26e-8,"512":78e-10,"1024":26e-11,"2048":2e-10},
{"t":70.25,"16":0.27,"32":12e-3,"64":52e-5,"128":125e-7,"256":42e-8,"512":115e-10,"1024":5e-10,"2048":28e-10},
{"t":70.5,"16":0.225,"32":78e-4,"64":31e-5,"128":83e-7,"256":26e-8,"512":8e-9,"1024":7e-10,"2048":15e-10},
{"t":70.75,"16":0.28,"32":155e-4,"64":55e-5,"128":12e-6,"256":52e-8,"512":12e-9,"1024":5e-10,"2048":26e-10},
{"t":71,"16":0.235,"32":75e-4,"64":3e-4,"128":67e-7,"256":25e-8,"512":77e-10,"1024":24e-11,"2048":14e-10},
{"t":71.25,"16":0.26,"32":128e-4,"64":5e-4,"128":162e-7,"256":39e-8,"512":11e-9,"1024":39e-11,"2048":3e-9},
{"t":71.5,"16":0.2,"32":8e-3,"64":33e-5,"128":8e-6,"256":27e-8,"512":82e-10,"1024":27e-11,"2048":16e-10},
{"t":71.75,"16":0.31,"32":122e-4,"64":66e-5,"128":13e-6,"256":41e-8,"512":135e-10,"1024":46e-11,"2048":27e-10},
{"t":72,"16":0.22,"32":62e-4,"64":25e-5,"128":82e-7,"256":21e-8,"512":67e-10,"1024":5e-10,"2048":8e-11},
{"t":72.25,"16":0.275,"32":125e-4,"64":53e-5,"128":125e-7,"256":4e-7,"512":118e-10,"1024":75e-11,"2048":28e-10},
{"t":72.5,"16":0.225,"32":77e-4,"64":32e-5,"128":8e-6,"256":26e-8,"512":79e-10,"1024":5e-10,"2048":15e-10},
{"t":72.75,"16":0.27,"32":13e-3,"64":51e-5,"128":12e-6,"256":38e-8,"512":115e-10,"1024":38e-11,"2048":26e-10},
{"t":73,"16":0.235,"32":8e-3,"64":31e-5,"128":78e-7,"256":26e-8,"512":8e-9,"1024":25e-11,"2048":14e-10},
{"t":73.25,"16":0.28,"32":12e-3,"64":56e-5,"128":162e-7,"256":42e-8,"512":12e-9,"1024":44e-11,"2048":3e-9},
{"t":73.5,"16":0.2,"32":7e-3,"64":3e-4,"128":83e-7,"256":25e-8,"512":78e-10,"1024":24e-11,"2048":9e-10},
{"t":73.75,"16":0.26,"32":155e-4,"64":52e-5,"128":13e-6,"256":52e-8,"512":11e-9,"1024":42e-11,"2048":18e-11},
{"t":74,"16":0.22,"32":78e-4,"64":33e-5,"128":67e-7,"256":27e-8,"512":8e-9,"1024":5e-10,"2048":15e-10},
{"t":74.25,"16":0.31,"32":128e-4,"64":55e-5,"128":125e-7,"256":39e-8,"512":135e-10,"1024":68e-11,"2048":28e-10},
{"t":74.5,"16":0.225,"32":75e-4,"64":25e-5,"128":8e-6,"256":21e-8,"512":77e-10,"1024":5e-10,"2048":14e-10},
{"t":74.75,"16":0.275,"32":122e-4,"64":5e-4,"128":12e-6,"256":41e-8,"512":118e-10,"1024":46e-11,"2048":26e-10},
{"t":75,"16":0.235,"32":8e-3,"64":32e-5,"128":82e-7,"256":26e-8,"512":82e-10,"1024":26e-11,"2048":16e-10},
{"t":75.25,"16":0.27,"32":125e-4,"64":66e-5,"128":162e-7,"256":4e-7,"512":115e-10,"1024":4e-10,"2048":3e-9},
{"t":75.5,"16":0.2,"32":62e-4,"64":31e-5,"128":8e-6,"256":26e-8,"512":67e-10,"1024":25e-11,"2048":7e-10},
{"t":75.75,"16":0.28,"32":13e-3,"64":53e-5,"128":13e-6,"256":38e-8,"512":12e-9,"1024":38e-11,"2048":1e-10},
{"t":76,"16":0.22,"32":77e-4,"64":3e-4,"128":78e-7,"256":25e-8,"512":79e-10,"1024":5e-10,"2048":15e-10},
{"t":76.25,"16":0.26,"32":12e-3,"64":51e-5,"128":125e-7,"256":42e-8,"512":11e-9,"1024":72e-11,"2048":28e-10},
{"t":76.5,"16":0.225,"32":8e-3,"64":33e-5,"128":83e-7,"256":27e-8,"512":8e-9,"1024":5e-10,"2048":14e-10},
{"t":76.75,"16":0.31,"32":155e-4,"64":56e-5,"128":12e-6,"256":52e-8,"512":135e-10,"1024":42e-11,"2048":26e-10},
{"t":77,"16":0.235,"32":7e-3,"64":25e-5,"128":67e-7,"256":21e-8,"512":78e-10,"1024":21e-11,"2048":9e-10},
{"t":77.25,"16":0.275,"32":128e-4,"64":52e-5,"128":162e-7,"256":39e-8,"512":118e-10,"1024":39e-11,"2048":3e-9},
{"t":77.5,"16":0.2,"32":78e-4,"64":32e-5,"128":8e-6,"256":26e-8,"512":8e-9,"1024":26e-11,"2048":15e-10},
{"t":77.75,"16":0.27,"32":122e-4,"64":55e-5,"128":13e-6,"256":41e-8,"512":115e-10,"1024":5e-10,"2048":15e-11},
{"t":78,"16":0.22,"32":75e-4,"64":31e-5,"128":82e-7,"256":26e-8,"512":77e-10,"1024":7e-10,"2048":14e-10},
{"t":78.25,"16":0.28,"32":125e-4,"64":5e-4,"128":125e-7,"256":4e-7,"512":12e-9,"1024":5e-10,"2048":28e-10},
{"t":78.5,"16":0.225,"32":8e-3,"64":3e-4,"128":8e-6,"256":25e-8,"512":82e-10,"1024":24e-11,"2048":16e-10},
{"t":78.75,"16":0.26,"32":13e-3,"64":66e-5,"128":12e-6,"256":38e-8,"512":11e-9,"1024":38e-11,"2048":26e-10},
{"t":79,"16":0.235,"32":62e-4,"64":33e-5,"128":78e-7,"256":27e-8,"512":67e-10,"1024":27e-11,"2048":7e-10},
{"t":79.25,"16":0.31,"32":12e-3,"64":53e-5,"128":162e-7,"256":42e-8,"512":135e-10,"1024":44e-11,"2048":3e-9},
{"t":79.5,"16":0.2,"32":77e-4,"64":25e-5,"128":83e-7,"256":21e-8,"512":79e-10,"1024":21e-11,"2048":15e-10},
{"t":79.75,"16":0.275,"32":155e-4,"64":51e-5,"128":13e-6,"256":52e-8,"512":118e-10,"1024":5e-10,"2048":11e-11},
{"t":80,"16":0.22,"32":8e-3,"64":32e-5,"128":67e-7,"256":26e-8,"512":8e-9,"1024":68e-11,"2048":14e-10},
{"t":80.25,"16":0.27,"32":128e-4,"64":56e-5,"128":125e-7,"256":39e-8,"512":115e-10,"1024":5e-10,"2048":28e-10},
{"t":80.5,"16":0.225,"32":7e-3,"64":31e-5,"128":8e-6,"256":26e-8,"512":78e-10,"1024":25e-11,"2048":9e-10},
{"t":80.75,"16":0.28,"32":122e-4,"64":52e-5,"128":12e-6,"256":41e-8,"512":12e-9,"1024":46e-11,"2048":26e-10},
{"t":81,"16":0.235,"32":78e-4,"64":3e-4,"128":82e-7,"256":25e-8,"512":8e-9,"1024":24e-11,"2048":15e-10},
{"t":81.25,"16":0.26,"32":125e-4,"64":55e-5,"128":162e-7,"256":4e-7,"512":11e-9,"1024":4e-10,"2048":3e-9},
{"t":81.5,"16":0.2,"32":75e-4,"64":33e-5,"128":8e-6,"256":27e-8,"512":77e-10,"1024":27e-11,"2048":14e-10},
{"t":81.75,"16":0.31,"32":13e-3,"64":5e-4,"128":13e-6,"256":38e-8,"512":135e-10,"1024":5e-10,"2048":27e-10},
{"t":82,"16":0.22,"32":8e-3,"64":25e-5,"128":78e-7,"256":21e-8,"512":82e-10,"1024":72e-11,"2048":16e-10},
{"t":82.25,"16":0.275,"32":12e-3,"64":66e-5,"128":125e-7,"256":42e-8,"512":118e-10,"1024":5e-10,"2048":28e-10},
{"t":82.5,"16":0.225,"32":62e-4,"64":32e-5,"128":83e-7,"256":26e-8,"512":67e-10,"1024":26e-11,"2048":17e-11},
{"t":82.75,"16":0.27,"32":155e-4,"64":53e-5,"128":12e-6,"256":52e-8,"512":115e-10,"1024":42e-11,"2048":26e-10},
{"t":83,"16":0.235,"32":77e-4,"64":31e-5,"128":67e-7,"256":26e-8,"512":79e-10,"1024":25e-11,"2048":15e-10},
{"t":83.25,"16":0.28,"32":128e-4,"64":51e-5,"128":162e-7,"256":39e-8,"512":12e-9,"1024":39e-11,"2048":3e-9},
{"t":83.5,"16":0.2,"32":8e-3,"64":3e-4,"128":8e-6,"256":25e-8,"512":8e-9,"1024":5e-10,"2048":14e-10},
{"t":83.75,"16":0.26,"32":122e-4,"64":56e-5,"128":13e-6,"256":41e-8,"512":11e-9,"1024":75e-11,"2048":27e-10},
{"t":84,"16":0.22,"32":7e-3,"64":33e-5,"128":82e-7,"256":27e-8,"512":78e-10,"1024":5e-10,"2048":9e-10},
{"t":84.25,"16":0.31,"32":125e-4,"64":52e-5,"128":125e-7,"256":4e-7,"512":135e-10,"1024":4e-10,"2048":28e-10},
{"t":84.5,"16":0.225,"32":78e-4,"64":25e-5,"128":8e-6,"256":21e-8,"512":8e-9,"1024":21e-11,"2048":15e-10},
{"t":84.75,"16":0.275,"32":13e-3,"64":55e-5,"128":12e-6,"256":38e-8,"512":118e-10,"1024":38e-11,"2048":26e-10},
{"t":85,"16":0.235,"32":75e-4,"64":32e-5,"128":78e-7,"256":26e-8,"512":77e-10,"1024":26e-11,"2048":14e-10},
{"t":85.25,"16":0.27,"32":12e-3,"64":5e-4,"128":162e-7,"256":42e-8,"512":115e-10,"1024":44e-11,"2048":105e-12},
{"t":85.5,"16":0.2,"32":8e-3,"64":31e-5,"128":83e-7,"256":26e-8,"512":82e-10,"1024":5e-10,"2048":16e-10},
{"t":85.75,"16":0.28,"32":155e-4,"64":66e-5,"128":13e-6,"256":52e-8,"512":12e-9,"1024":7e-10,"2048":27e-10},
{"t":86,"16":0.22,"32":62e-4,"64":3e-4,"128":67e-7,"256":25e-8,"512":67e-10,"1024":5e-10,"2048":7e-10},
{"t":86.25,"16":0.26,"32":128e-4,"64":53e-5,"128":125e-7,"256":39e-8,"512":11e-9,"1024":39e-11,"2048":28e-10},
{"t":86.5,"16":0.225,"32":77e-4,"64":33e-5,"128":8e-6,"256":27e-8,"512":79e-10,"1024":27e-11,"2048":15e-10},
{"t":86.75,"16":0.31,"32":122e-4,"64":51e-5,"128":12e-6,"256":41e-8,"512":135e-10,"1024":46e-11,"2048":26e-10},
{"t":87,"16":0.235,"32":8e-3,"64":25e-5,"128":82e-7,"256":21e-8,"512":8e-9,"1024":21e-11,"2048":14e-10},
{"t":87.25,"16":0.275,"32":125e-4,"64":56e-5,"128":162e-7,"256":4e-7,"512":118e-10,"1024":4e-10,"2048":19e-11},
{"t":87.5,"16":0.2,"32":7e-3,"64":32e-5,"128":8e-6,"256":26e-8,"512":78e-10,"1024":5e-10,"2048":9e-10},
{"t":87.75,"16":0.27,"32":13e-3,"64":52e-5,"128":13e-6,"256":38e-8,"512":115e-10,"1024":72e-11,"2048":27e-10},
{"t":88,"16":0.22,"32":78e-4,"64":31e-5,"128":78e-7,"256":26e-8,"512":8e-9,"1024":5e-10,"2048":15e-10},
{"t":88.25,"16":0.28,"32":12e-3,"64":55e-5,"128":125e-7,"256":42e-8,"512":12e-9,"1024":44e-11,"2048":28e-10},
{"t":88.5,"16":0.225,"32":75e-4,"64":3e-4,"128":83e-7,"256":25e-8,"512":77e-10,"1024":24e-11,"2048":14e-10},
{"t":88.75,"16":0.26,"32":155e-4,"64":5e-4,"128":12e-6,"256":52e-8,"512":11e-9,"1024":42e-11,"2048":26e-10},
{"t":89,"16":0.235,"32":8e-3,"64":33e-5,"128":67e-7,"256":27e-8,"512":82e-10,"1024":27e-11,"2048":16e-10},
{"t":89.25,"16":0.31,"32":128e-4,"64":66e-5,"128":162e-7,"256":39e-8,"512":135e-10,"1024":5e-10,"2048":95e-12},
{"t":89.5,"16":0.2,"32":62e-4,"64":25e-5,"128":8e-6,"256":21e-8,"512":67e-10,"1024":68e-11,"2048":7e-10},
{"t":89.75,"16":0.275,"32":122e-4,"64":53e-5,"128":13e-6,"256":41e-8,"512":118e-10,"1024":5e-10,"2048":27e-10},
{"t":90,"16":0.22,"32":77e-4,"64":32e-5,"128":82e-7,"256":26e-8,"512":79e-10,"1024":26e-11,"2048":15e-10},
{"t":90.25,"16":0.27,"32":125e-4,"64":51e-5,"128":125e-7,"256":4e-7,"512":115e-10,"1024":4e-10,"2048":28e-10},
{"t":90.5,"16":0.225,"32":8e-3,"64":31e-5,"128":8e-6,"256":26e-8,"512":8e-9,"1024":25e-11,"2048":14e-10},
{"t":90.75,"16":0.28,"32":13e-3,"64":56e-5,"128":12e-6,"256":38e-8,"512":12e-9,"1024":38e-11,"2048":26e-10},
{"t":91,"16":0.235,"32":7e-3,"64":3e-4,"128":78e-7,"256":25e-8,"512":78e-10,"1024":24e-11,"2048":9e-10},
{"t":91.25,"16":0.26,"32":12e-3,"64":52e-5,"128":162e-7,"256":42e-8,"512":11e-9,"1024":5e-10,"2048":16e-11},
{"t":91.5,"16":0.2,"32":78e-4,"64":33e-5,"128":83e-7,"256":27e-8,"512":8e-9,"1024":72e-11,"2048":15e-10},
{"t":91.75,"16":0.31,"32":155e-4,"64":55e-5,"128":13e-6,"256":52e-8,"512":135e-10,"1024":5e-10,"2048":27e-10},
{"t":92,"16":0.22,"32":75e-4,"64":25e-5,"128":67e-7,"256":21e-8,"512":77e-10,"1024":21e-11,"2048":14e-10},
{"t":92.25,"16":0.275,"32":128e-4,"64":5e-4,"128":125e-7,"256":39e-8,"512":118e-10,"1024":39e-11,"2048":28e-10},
{"t":92.5,"16":0.225,"32":8e-3,"64":32e-5,"128":8e-6,"256":26e-8,"512":82e-10,"1024":26e-11,"2048":16e-10},
{"t":92.75,"16":0.27,"32":122e-4,"64":66e-5,"128":12e-6,"256":41e-8,"512":115e-10,"1024":46e-11,"2048":26e-10},
{"t":93,"16":0.235,"32":62e-4,"64":31e-5,"128":82e-7,"256":26e-8,"512":67e-10,"1024":25e-11,"2048":8e-11},
{"t":93.25,"16":0.28,"32":125e-4,"64":53e-5,"128":162e-7,"256":4e-7,"512":12e-9,"1024":5e-10,"2048":3e-9},
{"t":93.5,"16":0.2,"32":77e-4,"64":3e-4,"128":8e-6,"256":25e-8,"512":79e-10,"1024":75e-11,"2048":15e-10},
{"t":93.75,"16":0.26,"32":13e-3,"64":51e-5,"128":13e-6,"256":38e-8,"512":11e-9,"1024":5e-10,"2048":27e-10},
{"t":94,"16":0.22,"32":8e-3,"64":33e-5,"128":78e-7,"256":27e-8,"512":8e-9,"1024":27e-11,"2048":14e-10},
{"t":94.25,"16":0.31,"32":12e-3,"64":56e-5,"128":125e-7,"256":42e-8,"512":135e-10,"1024":44e-11,"2048":28e-10},
{"t":94.5,"16":0.225,"32":7e-3,"64":25e-5,"128":83e-7,"256":21e-8,"512":78e-10,"1024":21e-11,"2048":9e-10},
{"t":94.75,"16":0.275,"32":155e-4,"64":52e-5,"128":12e-6,"256":52e-8,"512":118e-10,"1024":42e-11,"2048":26e-10},
{"t":95,"16":0.235,"32":78e-4,"64":32e-5,"128":67e-7,"256":26e-8,"512":8e-9,"1024":26e-11,"2048":18e-11},
{"t":95.25,"16":0.27,"32":128e-4,"64":55e-5,"128":162e-7,"256":39e-8,"512":115e-10,"1024":5e-10,"2048":3e-9},
{"t":95.5,"16":0.2,"32":75e-4,"64":31e-5,"128":8e-6,"256":26e-8,"512":77e-10,"1024":7e-10,"2048":14e-10},
{"t":95.75,"16":0.28,"32":122e-4,"64":5e-4,"128":13e-6,"256":41e-8,"512":12e-9,"1024":5e-10,"2048":27e-10},
{"t":96,"16":0.22,"32":8e-3,"64":3e-4,"128":82e-7,"256":25e-8,"512":82e-10,"1024":24e-11,"2048":16e-10},
{"t":96.25,"16":0.26,"32":125e-4,"64":66e-5,"128":125e-7,"256":4e-7,"512":11e-9,"1024":4e-10,"2048":28e-10},
{"t":96.5,"16":0.225,"32":62e-4,"64":33e-5,"128":8e-6,"256":27e-8,"512":67e-10,"1024":27e-11,"2048":7e-10},
{"t":96.75,"16":0.31,"32":13e-3,"64":53e-5,"128":12e-6,"256":38e-8,"512":135e-10,"1024":38e-11,"2048":26e-10},
{"t":97,"16":0.235,"32":77e-4,"64":25e-5,"128":78e-7,"256":21e-8,"512":79e-10,"1024":5e-10,"2048":6e-11},
{"t":97.25,"16":0.275,"32":12e-3,"64":51e-5,"128":162e-7,"256":42e-8,"512":118e-10,"1024":68e-11,"2048":3e-9},
{"t":97.5,"16":0.2,"32":8e-3,"64":32e-5,"128":83e-7,"256":26e-8,"512":8e-9,"1024":5e-10,"2048":14e-10},
{"t":97.75,"16":0.27,"32":155e-4,"64":56e-5,"128":13e-6,"256":52e-8,"512":115e-10,"1024":42e-11,"2048":27e-10},
{"t":98,"16":0.22,"32":7e-3,"64":31e-5,"128":67e-7,"256":26e-8,"512":78e-10,"1024":25e-11,"2048":9e-10},
{"t":98.25,"16":0.28,"32":128e-4,"64":52e-5,"128":125e-7,"256":39e-8,"512":12e-9,"1024":39e-11,"2048":28e-10},
{"t":98.5,"16":0.225,"32":78e-4,"64":3e-4,"128":8e-6,"256":25e-8,"512":8e-9,"1024":24e-11,"2048":15e-10},
{"t":98.75,"16":0.26,"32":122e-4,"64":55e-5,"128":12e-6,"256":41e-8,"512":11e-9,"1024":46e-11,"2048":26e-10},
{"t":99,"16":0.235,"32":75e-4,"64":33e-5,"128":82e-7,"256":27e-8,"512":77e-10,"1024":5e-10,"2048":2e-10},
{"t":99.25,"16":0.31,"32":125e-4,"64":5e-4,"128":162e-7,"256":4e-7,"512":135e-10,"1024":72e-11,"2048":3e-9},
{"t":99.5,"16":0.2,"32":8e-3,"64":25e-5,"128":8e-6,"256":21e-8,"512":82e-10,"1024":5e-10,"2048":16e-10},
{"t":99.75,"16":0.275,"32":13e-3,"64":66e-5,"128":13e-6,"256":38e-8,"512":118e-10,"1024":38e-11,"2048":27e-10}
    ]
  },
  "resolve": {"axis": {"x": "independent", "y": "independent"}},
  "layer": [
    {
      "data": {"values": [{"t": 50, "err": 1e-5}]},
      "mark": {"type": "point", "opacity": 0},
      "encoding": {
        "x": {
          "field": "t", "type": "quantitative",
          "scale": {"domain": [0.33, 99.67], "nice": false, "zero": false},
          "axis": {
            "orient": "bottom",
            "values": [1,2,3,4,5,6,7,8,9,11,12,13,14,15,16,17,18,19,21,22,23,24,25,26,27,28,29,31,32,33,34,35,36,37,38,39,41,42,43,44,45,46,47,48,49,51,52,53,54,55,56,57,58,59,61,62,63,64,65,66,67,68,69,71,72,73,74,75,76,77,78,79,81,82,83,84,85,86,87,88,89,91,92,93,94,95,96,97,98,99],
            "grid": true, "gridColor": "#262626", "gridOpacity": 0.28, "gridDash": [1, 2.5],
            "labels": false, "ticks": true, "tickSize": -3, "tickColor": "#262626",
            "domain": false, "title": null
          }
        },
        "y": {
          "field": "err", "type": "quantitative",
          "scale": {"type": "log", "domain": [1e-11, 0.354], "nice": false},
          "axis": {
            "orient": "left",
            "values": [2e-11,3e-11,4e-11,5e-11,6e-11,7e-11,8e-11,9e-11,2e-10,3e-10,4e-10,5e-10,6e-10,7e-10,8e-10,9e-10,1e-9,2e-9,3e-9,4e-9,5e-9,6e-9,7e-9,8e-9,9e-9,2e-8,3e-8,4e-8,5e-8,6e-8,7e-8,8e-8,9e-8,1e-7,2e-7,3e-7,4e-7,5e-7,6e-7,7e-7,8e-7,9e-7,2e-6,3e-6,4e-6,5e-6,6e-6,7e-6,8e-6,9e-6,1e-5,2e-5,3e-5,4e-5,5e-5,6e-5,7e-5,8e-5,9e-5,2e-4,3e-4,4e-4,5e-4,6e-4,7e-4,8e-4,9e-4,1e-3,2e-3,3e-3,4e-3,5e-3,6e-3,7e-3,8e-3,9e-3,2e-2,3e-2,4e-2,5e-2,6e-2,7e-2,8e-2,9e-2,0.1,0.2,0.3],
            "grid": true, "gridColor": "#262626", "gridOpacity": 0.28, "gridDash": [1, 2.5],
            "labels": false, "ticks": true, "tickSize": -3, "tickColor": "#262626",
            "domain": false, "title": null
          }
        }
      }
    },
    {
      "data": {"values": [{"t": 50, "err": 1e-5}]},
      "mark": {"type": "point", "opacity": 0},
      "encoding": {
        "x": {
          "field": "t", "type": "quantitative",
          "scale": {"domain": [0.33, 99.67], "nice": false, "zero": false},
          "axis": {
            "orient": "top",
            "values": [10,20,30,40,50,60,70,80,90],
            "grid": false, "labels": false, "ticks": true, "tickSize": -5, "tickColor": "#262626",
            "domain": false, "title": null
          }
        },
        "y": {
          "field": "err", "type": "quantitative",
          "scale": {"type": "log", "domain": [1e-11, 0.354], "nice": false},
          "axis": {
            "orient": "right",
            "values": [1e-10, 1e-8, 1e-6, 1e-4, 1e-2],
            "grid": false, "labels": false, "ticks": true, "tickSize": -5, "tickColor": "#262626",
            "domain": false, "title": null
          }
        }
      }
    },
    {
      "data": {"name": "err"},
      "transform": [
        {"fold": ["16", "32", "64", "128", "256", "512", "1024", "2048"], "as": ["N", "err"]}
      ],
      "mark": {"type": "line", "strokeWidth": 1.8, "clip": true},
      "encoding": {
        "x": {
          "field": "t", "type": "quantitative",
          "scale": {"domain": [0.33, 99.67], "nice": false, "zero": false},
          "axis": {
            "orient": "bottom",
            "values": [10,20,30,40,50,60,70,80,90],
            "format": "d",
            "grid": true, "gridColor": "#dcdcdc", "gridWidth": 1,
            "ticks": true, "tickSize": -5, "tickColor": "#262626",
            "domain": true, "domainColor": "#262626",
            "labelFontSize": 16, "labelColor": "#262626", "labelPadding": 22,
            "title": "time", "titleFontSize": 22, "titleFontWeight": "normal", "titleColor": "#262626", "titlePadding": 4
          }
        },
        "y": {
          "field": "err", "type": "quantitative",
          "scale": {"type": "log", "domain": [1e-11, 0.354], "nice": false},
          "axis": {
            "orient": "left",
            "values": [1e-10, 1e-8, 1e-6, 1e-4, 1e-2],
            "labelExpr": "datum.value < 1e-9 ? '10⁻¹⁰' : datum.value < 1e-7 ? '10⁻⁸' : datum.value < 1e-5 ? '10⁻⁶' : datum.value < 1e-3 ? '10⁻⁴' : '10⁻²'",
            "grid": true, "gridColor": "#dcdcdc", "gridWidth": 1,
            "ticks": true, "tickSize": -5, "tickColor": "#262626",
            "domain": true, "domainColor": "#262626",
            "labelFontSize": 16, "labelColor": "#262626", "labelPadding": 14,
            "title": "difference from exact", "titleFontSize": 22, "titleFontWeight": "normal", "titleColor": "#262626", "titlePadding": 16
          }
        },
        "color": {
          "field": "N", "type": "nominal",
          "scale": {
            "domain": ["16", "32", "64", "128", "256", "512", "1024", "2048"],
            "range": ["#0072BD", "#D95319", "#EDB120", "#7E2F8E", "#77AC30", "#4DBEEE", "#A2142F", "#0072BD"]
          },
          "legend": {
            "orient": "none", "legendX": 21, "legendY": 25, "direction": "vertical",
            "title": null,
            "symbolType": "stroke", "symbolSize": 3025, "symbolStrokeWidth": 1.3,
            "clipHeight": 23,
            "labelFont": "Liberation Sans", "labelFontSize": 16, "labelColor": "#000000", "labelOffset": 6,
            "strokeColor": "#262626", "fillColor": "#ffffff", "padding": 4, "rowPadding": 0
          }
        }
      }
    }
  ]
}
